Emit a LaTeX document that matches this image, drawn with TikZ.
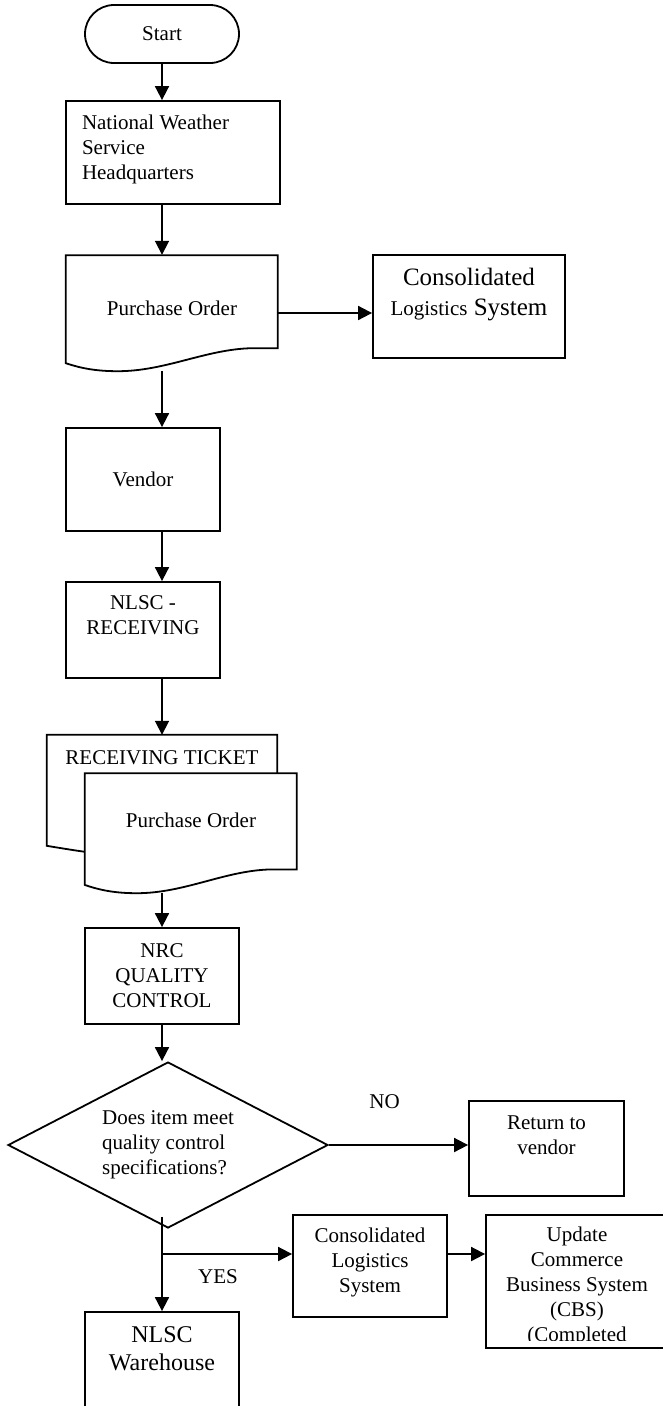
\documentclass[tikz,border=0pt]{standalone}
\usepackage{fontspec}
\setmainfont{Liberation Serif}
\usetikzlibrary{arrows.meta,shapes.geometric}

\begin{document}
\begin{tikzpicture}[x=1pt,y=-1pt,font=\fontsize{21}{25}\selectfont]
\tikzstyle{box}=[draw,line width=1.8pt,inner sep=2pt,align=center]
\tikzstyle{doctext}=[inner sep=0pt,minimum width=212,minimum height=116]
\tikzstyle{docline}=[draw,line width=1.8pt]
\tikzstyle{link}=[line width=1.8pt,-{Triangle[length=14pt,width=14pt]}]
\tikzset{docpic/.pic={\path[docline] (0,-116) -- (212,-116) -- (212,-23) -- (186,-23) .. controls (140,-22) and (100,0) .. (52,0) .. controls (30,0) and (15,-3) .. (0,-8) -- cycle;}}
\useasboundingbox (0,0) rectangle (663,1406);
\coordinate (spine) at (162,0);
\node[box,rounded corners=29pt,minimum width=154,minimum height=58] (start) at (162,34) {Start};
\node[box,minimum width=214,minimum height=103,text width=182,align=flush left,text depth=60pt] (nws) at (173,152.5) {National Weather\\Service\\Headquarters};
\node[doctext,text depth=10pt] (po1) at (172,313) {Purchase Order};
\pic at (po1.south west) {docpic};
\node[box,minimum width=192,minimum height=103,font=\fontsize{25}{30}\selectfont,text depth=30pt] (cls1) at (469,306.5) {Consolidated\\{\fontsize{21}{30}\selectfont Logistics} System};
\node[box,minimum width=154,minimum height=103] (vendor) at (143,479.5) {Vendor};
\node[box,minimum width=154,minimum height=96,text depth=29pt] (recv) at (143,630) {NLSC -\\RECEIVING};
\node[inner sep=0pt,minimum width=230,minimum height=46] (tick) at (162,758) {RECEIVING TICKET};
\draw[docline] (tick.north east) ++(0,38) -- (tick.north east) -- (tick.north west) -- ++(0,111) .. controls +(12,2) and +(-14,-2) .. ++(38,6);
\node[doctext,minimum height=120,text depth=26pt] (po2) at (191,833) {Purchase Order};
\pic[yscale=1.034] at (po2.south west) {docpic};
\node[box,minimum width=154,minimum height=96] (nrc) at (162,976) {NRC\\QUALITY\\CONTROL};
\node[draw,diamond,line width=1.8pt,inner sep=0pt,aspect=1.93,minimum width=320,minimum height=166,align=left] (dec) at (168,1145) {Does item meet\\quality control\\specifications?};
\node[box,minimum width=155,minimum height=95,text depth=26pt] (ret) at (546.5,1148.5) {Return to\\vendor};
\node[box,minimum width=154,minimum height=102,text depth=12pt] (cls2) at (370,1266) {Consolidated\\Logistics\\System};
\node[box,minimum width=200,minimum height=133] (upd) at (586,1281.5) {};
\begin{scope}
\clip (upd.north west) rectangle ([yshift=8pt]upd.south east);
\node[inner sep=0pt,align=center] (updtext) at (577,1286.5) {Update\\Commerce\\Business System\\(CBS)\\(Completed};
\end{scope}
\node[box,minimum width=154,minimum height=120,font=\fontsize{24}{28}\selectfont,text depth=46pt] (wh) at (162,1372) {NLSC\\Warehouse};
\coordinate (fork) at (162,1254);
\draw[link] (start.south) -- (start.south |- nws.north);
\draw[link] (spine |- nws.south) -- (spine |- po1.north);
\draw[link] (po1.east) -- (po1.east -| cls1.west);
\draw[link] (spine |- po1.south) -- (spine |- vendor.north);
\draw[link] (spine |- vendor.south) -- (spine |- recv.north);
\draw[link] (spine |- recv.south) -- (tick.north);
\draw[link] (spine |- po2.south) -- (nrc.north);
\draw[link] (nrc.south) -- (nrc.south |- dec.north);
\draw[link] (dec.east) -- (dec.east -| ret.west) node[pos=.4,yshift=43pt] {NO};
\draw[link] (dec.south -| spine) ++(0,-12) -- (wh.north);
\draw[link] (fork) -- (fork -| cls2.west) node[pos=.43,yshift=-23pt] {YES};
\draw[link] (fork -| cls2.east) -- (fork -| upd.west);
\end{tikzpicture}
\end{document}
